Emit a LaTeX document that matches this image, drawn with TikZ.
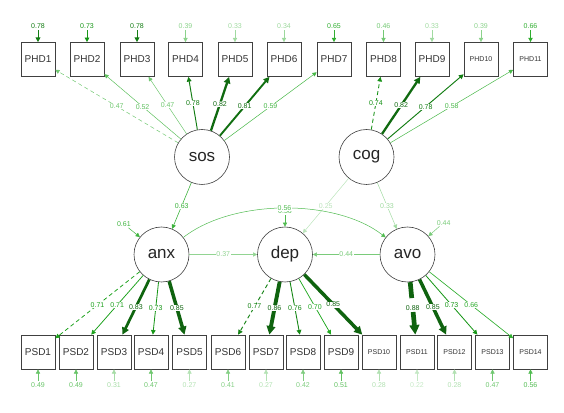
\documentclass[tikz,border=0pt]{standalone}
\usepackage{fontspec}
\setmainfont{Liberation Sans}
\usetikzlibrary{arrows.meta}
\definecolor{sgreen}{RGB}{25,165,25}

\tikzset{
  % colour and width of a path from its value
  wt/.code={%
    \pgfmathsetmacro\wtp{min(100,22+(#1-0.2)*150)}%
    \pgfmathsetmacro\wtd{100-min(40,max(0,(#1-0.7)*300))}%
    \pgfmathsetmacro\wtw{#1<0.8 ? 0.5+max(0,#1-0.6)*2.5 : 1.5+(#1-0.8)*40}%
    \edef\wtopts{color=sgreen!\wtp!white!\wtd!black,line width=\wtw pt}%
    \expandafter\pgfkeysalso\expandafter{\wtopts}},
  man/.style={rectangle,draw=black!75,line width=0.7pt,fill=white,text=black!80,
    minimum width=34pt,minimum height=34pt,inner sep=0pt,font=\fontsize{10}{10}\selectfont},
  mans/.style={man,font=\fontsize{7}{7}\selectfont},
  lat/.style={circle,draw=black!75,line width=0.6pt,fill=white,text=black!85,
    minimum size=55pt,inner sep=0pt,font=\fontsize{17}{17}\selectfont},
  lbl/.style={fill=white,inner sep=0.5pt,font=\fontsize{7}{7}\selectfont},
  fixload/.style={dash pattern=on 4pt off 3pt},
  every pin/.style={font=\fontsize{7}{7}\selectfont,inner sep=1pt},
  res/.style={pin={[wt=#1,pin edge={wt=#1,<-}]above:#1}},
  resb/.style={pin={[wt=#1,pin edge={wt=#1,<-}]below:#1}},
}

\begin{document}
\begin{tikzpicture}[x=1pt,y=1pt,>={Triangle[length=3.5pt 1.3,width=3.5pt 1.3]},pin distance=12pt]
\useasboundingbox (0,0) rectangle (564,412);

% latent variables
\node[lat] (sos) at (202,255) {sos};
\node[lat] (cog) at (366.5,255) {cog};
\node[lat,pin={[wt=0.61,pin edge={wt=0.61,<-}]138:0.61}] (anx) at (161.5,157.5) {anx};
\node[lat,pin={[wt=0.56,pin edge={wt=0.56,<-}]above:0.56}] (dep) at (285,157.5) {dep};
\node[lat,pin={[wt=0.44,pin edge={wt=0.44,<-}]45:0.44}] (avo) at (407.5,157.5) {avo};

% indicators, top row
\node[man,res=0.78] (PHD1) at (38,352.5) {PHD1};
\node[man,res=0.73] (PHD2) at (87,352.5) {PHD2};
\node[man,res=0.78] (PHD3) at (137,352.5) {PHD3};
\node[man,res=0.39] (PHD4) at (185.5,352.5) {PHD4};
\node[man,res=0.33] (PHD5) at (235,352.5) {PHD5};
\node[man,res=0.34] (PHD6) at (284,352.5) {PHD6};
\node[man,res=0.65] (PHD7) at (334,352.5) {PHD7};
\node[man,res=0.46] (PHD8) at (383.5,352.5) {PHD8};
\node[man,res=0.33] (PHD9) at (432,352.5) {PHD9};
\node[mans,res=0.39] (PHD10) at (481,352.5) {PHD10};
\node[mans,res=0.66] (PHD11) at (530.5,352.5) {PHD11};

% indicators, bottom row
\node[man,resb=0.49] (PSD1) at (38,60) {PSD1};
\node[man,resb=0.49] (PSD2) at (76,60) {PSD2};
\node[man,resb=0.31] (PSD3) at (114,60) {PSD3};
\node[man,resb=0.47] (PSD4) at (151,60) {PSD4};
\node[man,resb=0.27] (PSD5) at (189.5,60) {PSD5};
\node[man,resb=0.41] (PSD6) at (228,60) {PSD6};
\node[man,resb=0.27] (PSD7) at (266,60) {PSD7};
\node[man,resb=0.42] (PSD8) at (303,60) {PSD8};
\node[man,resb=0.51] (PSD9) at (341,60) {PSD9};
\node[mans,resb=0.28] (PSD10) at (379,60) {PSD10};
\node[mans,resb=0.22] (PSD11) at (417,60) {PSD11};
\node[mans,resb=0.28] (PSD12) at (454.5,60) {PSD12};
\node[mans,resb=0.47] (PSD13) at (492.5,60) {PSD13};
\node[mans,resb=0.56] (PSD14) at (530.5,60) {PSD14};

% loadings
\draw[->,wt=0.47,fixload] (sos) -- node[lbl] {0.47} (PHD1);
\draw[->,wt=0.52] (sos) -- node[lbl] {0.52} (PHD2);
\draw[->,wt=0.47] (sos) -- node[lbl] {0.47} (PHD3);
\draw[->,wt=0.78] (sos) -- node[lbl] {0.78} (PHD4);
\draw[->,wt=0.82] (sos) -- node[lbl] {0.82} (PHD5);
\draw[->,wt=0.81] (sos) -- node[lbl] {0.81} (PHD6);
\draw[->,wt=0.59] (sos) -- node[lbl] {0.59} (PHD7);
\draw[->,wt=0.74,fixload] (cog) -- node[lbl] {0.74} (PHD8);
\draw[->,wt=0.82] (cog) -- node[lbl] {0.82} (PHD9);
\draw[->,wt=0.78] (cog) -- node[lbl] {0.78} (PHD10);
\draw[->,wt=0.58] (cog) -- node[lbl] {0.58} (PHD11);

\draw[->,wt=0.71,fixload] (anx) -- node[lbl] {0.71} (PSD1);
\draw[->,wt=0.71] (anx) -- node[lbl] {0.71} (PSD2);
\draw[->,wt=0.83] (anx) -- node[lbl] {0.83} (PSD3);
\draw[->,wt=0.73] (anx) -- node[lbl] {0.73} (PSD4);
\draw[->,wt=0.85] (anx) -- node[lbl] {0.85} (PSD5);
\draw[->,wt=0.77,fixload] (dep) -- node[lbl] {0.77} (PSD6);
\draw[->,wt=0.86] (dep) -- node[lbl] {0.86} (PSD7);
\draw[->,wt=0.76] (dep) -- node[lbl] {0.76} (PSD8);
\draw[->,wt=0.70] (dep) -- node[lbl] {0.70} (PSD9);
\draw[->,wt=0.85] (dep) -- node[lbl] {0.85} (PSD10);
\draw[->,wt=0.88,dash pattern=on 16pt off 14pt] (avo) -- node[lbl] {0.88} (PSD11);
\draw[->,wt=0.85] (avo) -- node[lbl] {0.85} (PSD12);
\draw[->,wt=0.73] (avo) -- node[lbl] {0.73} (PSD13);
\draw[->,wt=0.66] (avo) -- node[lbl] {0.66} (PSD14);

% structural paths
\draw[->,wt=0.63] (sos) -- node[lbl] {0.63} (anx);
\draw[->,wt=0.25] (cog) -- node[lbl] {0.25} (dep);
\draw[->,wt=0.33] (cog) -- node[lbl] {0.33} (avo);
\draw[->,wt=0.37] (anx) -- node[lbl] {0.37} (dep);
\draw[->,wt=0.44] (avo) -- node[lbl] {0.44} (dep);
\draw[->,wt=0.56] (anx) to[out=38,in=142,looseness=0.8] node[lbl] {0.56} (avo);
\end{tikzpicture}
\end{document}
